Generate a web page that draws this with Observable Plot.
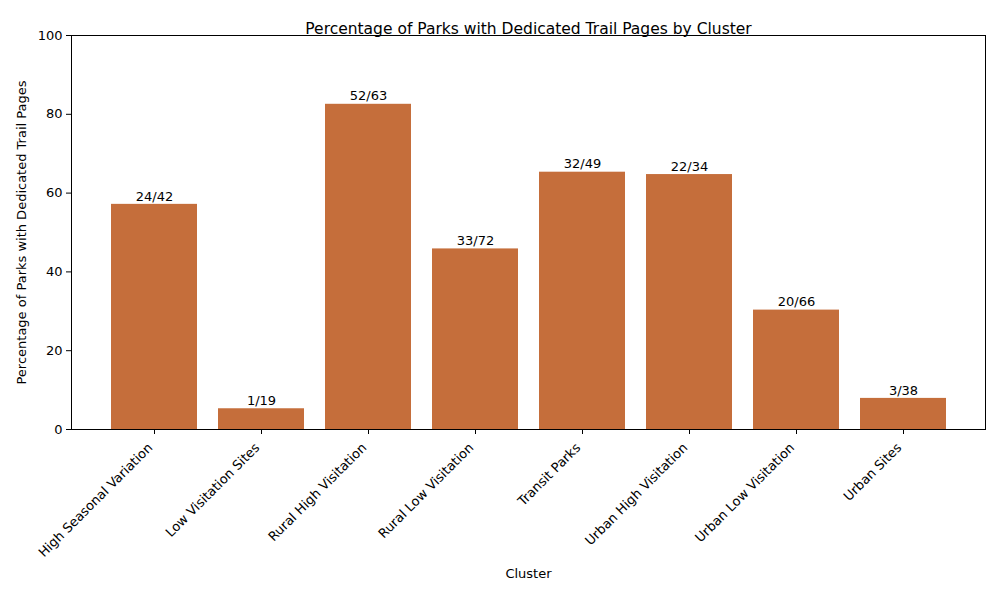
<!DOCTYPE html>
<html><head>
<script src="https://cdn.jsdelivr.net/npm/d3@7"></script>
<script src="https://cdn.jsdelivr.net/npm/@observablehq/plot@0.6"></script>
<style>body{margin:0;background:#fff;font-family:"DejaVu Sans",sans-serif}</style>
</head><body><div id="c"></div>
<script>
const clusters = ["High Seasonal Variation","Low Visitation Sites","Rural High Visitation","Rural Low Visitation","Transit Parks","Urban High Visitation","Urban Low Visitation","Urban Sites"];
const withPages = [24,1,52,33,32,22,20,3];
const totals = [42,19,63,72,49,34,66,38];
const yTicks = [0,20,40,60,80,100];
const data = clusters.map((c,i)=>({c, pct: withPages[i]/totals[i]*100, label: `${withPages[i]}/${totals[i]}`}));
const chart = Plot.plot({
  width:1000, height:600,
  marginLeft:71, marginRight:15, marginTop:35, marginBottom:171,
  style:{fontFamily:"DejaVu Sans, sans-serif", fontSize:"13px", color:"#000", background:"#fff"},
  x:{domain:clusters, paddingInner:0.2, paddingOuter:0.36, label:null, tickRotate:-45, tickSize:5},
  y:{domain:[0,100], ticks:yTicks, label:null, tickSize:5},
  marks:[
    Plot.barY(data,{x:"c", y:"pct", fill:"#c56e3b"}),
    Plot.text(data,{x:"c", y:"pct", text:"label", dy:-8, fontSize:13, fill:"#000"}),
    Plot.frame({stroke:"#000"}),
    Plot.text(["Percentage of Parks with Dedicated Trail Pages by Cluster"],{frameAnchor:"top", dy:-13, fontSize:15.5}),
    Plot.text(["Cluster"],{frameAnchor:"bottom", dy:148, fontSize:13}),
    Plot.text(["Percentage of Parks with Dedicated Trail Pages"],{frameAnchor:"left", textAnchor:"middle", dx:-50, rotate:-90, fontSize:13})
  ]
});
document.getElementById("c").append(chart);
d3.select(chart).selectAll("[aria-label='x-axis tick label'] text").attr("dx", -6);
</script></body></html>
